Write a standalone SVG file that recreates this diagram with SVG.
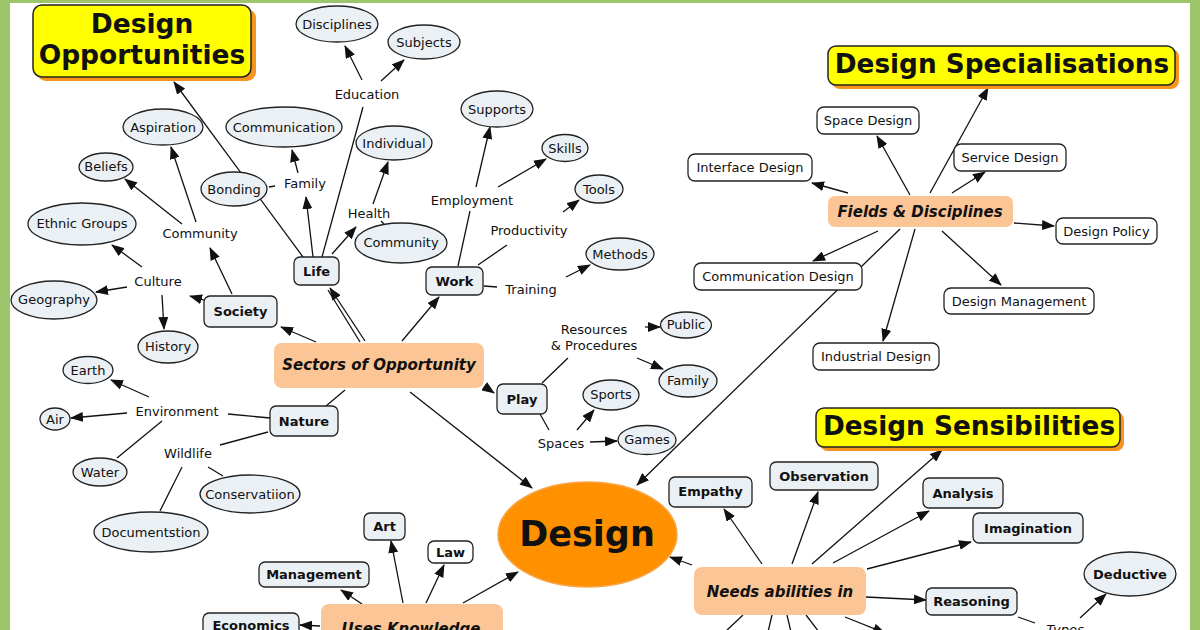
<svg xmlns="http://www.w3.org/2000/svg" width="1200" height="630" viewBox="0 0 1200 630">
<defs>
<marker id="ah" markerUnits="userSpaceOnUse" markerWidth="13" markerHeight="10" refX="12" refY="5" orient="auto">
<path d="M0,0 L13,5 L0,10 z" fill="#111"/>
</marker>
<style>
text{font-family:"DejaVu Sans","Liberation Sans",sans-serif;fill:#111;text-anchor:middle}
.t{font-size:13px}
.b{font-size:13px;font-weight:bold}
.p{font-size:15px;font-weight:bold;font-style:italic}
.el{fill:#eaf0f4;stroke:#222;stroke-width:1.3}
.bx{fill:#eaf0f4;stroke:#222;stroke-width:1.3}
.wb{fill:#fff;stroke:#222;stroke-width:1.3}
.pc{fill:#fbc596}
.ti{fill:#ffff00;stroke:#222;stroke-width:1.5}
.sh{fill:#f7941d}
.tt{font-weight:bold}
#conn line{stroke:#111;stroke-width:1.3}
#conn line.a{marker-end:url(#ah)}
</style>
</defs>
<rect x="0" y="0" width="1200" height="630" fill="#9dc56b"/>
<rect x="10" y="3" width="1180" height="627" fill="#fff"/>

<g id="conn">
<!-- Life -->
<line class="a" x1="303" y1="257" x2="174" y2="82"/>
<line class="a" x1="313" y1="257" x2="306" y2="197"/>
<line class="a" x1="298" y1="173" x2="292" y2="150"/>
<line x1="269" y1="187" x2="275" y2="186"/>
<line x1="322" y1="257" x2="363" y2="107"/>
<line class="a" x1="362" y1="80" x2="345" y2="46"/>
<line class="a" x1="381" y1="81" x2="404" y2="60"/>
<line class="a" x1="332" y1="254" x2="356" y2="227"/>
<line x1="381" y1="221" x2="384" y2="224"/>
<line class="a" x1="373" y1="204" x2="388" y2="162"/>
<!-- Sectors -->
<line x1="360" y1="342" x2="328" y2="290"/>
<line class="a" x1="365" y1="341" x2="330" y2="288"/>
<line class="a" x1="402" y1="341" x2="439" y2="297"/>
<line class="a" x1="316" y1="342" x2="281" y2="327"/>
<line x1="345" y1="390" x2="326" y2="406"/>
<line class="a" x1="484" y1="386" x2="494" y2="393"/>
<line class="a" x1="410" y1="392" x2="532" y2="488"/>
<!-- Work -->
<line x1="458" y1="266" x2="470" y2="211"/>
<line class="a" x1="476" y1="187" x2="490" y2="127"/>
<line class="a" x1="498" y1="187" x2="546" y2="159"/>
<line x1="478" y1="265" x2="507" y2="245"/>
<line class="a" x1="563" y1="212" x2="579" y2="200"/>
<line x1="484" y1="286" x2="497" y2="287"/>
<line class="a" x1="566" y1="277" x2="590" y2="265"/>
<!-- Society -->
<line class="a" x1="232" y1="294" x2="210" y2="248"/>
<line class="a" x1="204" y1="300" x2="190" y2="296"/>
<line class="a" x1="196" y1="222" x2="171" y2="147"/>
<line class="a" x1="182" y1="224" x2="125" y2="179"/>
<line class="a" x1="142" y1="267" x2="112" y2="245"/>
<line class="a" x1="127" y1="287" x2="96" y2="292"/>
<line class="a" x1="162" y1="295" x2="164" y2="329"/>
<!-- Nature -->
<line x1="270" y1="418" x2="228" y2="414"/>
<line class="a" x1="149" y1="397" x2="111" y2="380"/>
<line class="a" x1="127" y1="413" x2="71" y2="418"/>
<line x1="162" y1="421" x2="117" y2="458"/>
<line x1="268" y1="432" x2="220" y2="445"/>
<line x1="208" y1="467" x2="223" y2="476"/>
<line x1="182" y1="467" x2="160" y2="511"/>
<!-- Play -->
<line x1="542" y1="383" x2="568" y2="358"/>
<line class="a" x1="645" y1="327" x2="660" y2="327"/>
<line class="a" x1="637" y1="358" x2="663" y2="369"/>
<line x1="540" y1="414" x2="549" y2="430"/>
<line class="a" x1="577" y1="430" x2="594" y2="410"/>
<line class="a" x1="590" y1="442" x2="617" y2="441"/>
<!-- Fields -->
<line class="a" x1="930" y1="193" x2="988" y2="88"/>
<line class="a" x1="910" y1="195" x2="877" y2="136"/>
<line class="a" x1="848" y1="193" x2="812" y2="183"/>
<line class="a" x1="952" y1="193" x2="985" y2="172"/>
<line class="a" x1="1014" y1="223" x2="1054" y2="226"/>
<line class="a" x1="942" y1="231" x2="1001" y2="285"/>
<line class="a" x1="915" y1="229" x2="883" y2="341"/>
<line class="a" x1="878" y1="231" x2="813" y2="261"/>
<line class="a" x1="900" y1="229" x2="637" y2="485"/>
<!-- Needs -->
<line class="a" x1="692" y1="565" x2="670" y2="557"/>
<line class="a" x1="762" y1="564" x2="724" y2="509"/>
<line class="a" x1="792" y1="564" x2="818" y2="492"/>
<line class="a" x1="812" y1="564" x2="942" y2="450"/>
<line class="a" x1="833" y1="563" x2="929" y2="511"/>
<line class="a" x1="867" y1="569" x2="971" y2="542"/>
<line class="a" x1="866" y1="597" x2="926" y2="600"/>
<line x1="1018" y1="617" x2="1035" y2="623"/>
<line class="a" x1="1080" y1="618" x2="1106" y2="594"/>
<line x1="743" y1="615" x2="725" y2="632"/>
<line x1="772" y1="615" x2="768" y2="632"/>
<line x1="787" y1="615" x2="791" y2="632"/>
<line x1="806" y1="615" x2="819" y2="632"/>
<line class="a" x1="845" y1="617" x2="885" y2="633"/>
<!-- Uses -->
<line class="a" x1="403" y1="603" x2="391" y2="541"/>
<line class="a" x1="426" y1="603" x2="444" y2="565"/>
<line class="a" x1="362" y1="604" x2="341" y2="590"/>
<line class="a" x1="463" y1="603" x2="518" y2="572"/>
<line class="a" x1="320" y1="626" x2="300" y2="625"/>
</g>

<!-- Titles -->
<g id="design-opportunities">
<rect class="sh" x="37" y="9" width="219" height="72" rx="9"/>
<rect class="ti" x="33" y="5" width="218" height="72" rx="9"/>
<text class="tt" x="142" y="33" font-size="26.5">Design</text>
<text class="tt" x="142" y="64" font-size="26.5">Opportunities</text>
</g>
<g id="design-specialisations">
<rect class="sh" x="832" y="49" width="347" height="40" rx="8"/>
<rect class="ti" x="828" y="46" width="347" height="39" rx="8"/>
<text class="tt" x="1002" y="73" font-size="26.3">Design Specialisations</text>
</g>
<g id="design-sensibilities">
<rect class="sh" x="820" y="412" width="304" height="39" rx="8"/>
<rect class="ti" x="816" y="408" width="304" height="39" rx="8"/>
<text class="tt" x="969" y="435" font-size="26.3">Design Sensibilities</text>
</g>

<!-- Design -->
<g id="design">
<ellipse cx="587.5" cy="534.5" rx="89.5" ry="52.5" fill="#ff9000" stroke="#f7a54a" stroke-width="1.5"/>
<text class="tt" x="587" y="546" font-size="35">Design</text>
</g>

<!-- Peach -->
<g id="sectors"><rect class="pc" x="274" y="343" width="210" height="45" rx="8"/><text class="p" x="379" y="370">Sectors of Opportunity</text></g>
<g id="fields"><rect class="pc" x="828" y="196" width="185" height="31" rx="7"/><text class="p" x="920" y="216.5" font-size="13">Fields &amp; Disciplines</text></g>
<g id="needs"><rect class="pc" x="694" y="567" width="172" height="48" rx="8"/><text class="p" x="780" y="597">Needs abilities in</text></g>
<g id="uses"><rect class="pc" x="321" y="604" width="182" height="40" rx="8"/><text class="p" x="411" y="634">Uses Knowledge</text></g>

<!-- Ellipses -->
<g id="disciplines"><ellipse class="el" cx="337" cy="24" rx="41" ry="18"/><text class="t" x="337" y="28.5">Disciplines</text></g>
<g id="subjects"><ellipse class="el" cx="424" cy="42" rx="36" ry="17"/><text class="t" x="424" y="46.5">Subjects</text></g>
<g id="supports"><ellipse class="el" cx="497" cy="109" rx="36" ry="18"/><text class="t" x="497" y="113.5">Supports</text></g>
<g id="individual"><ellipse class="el" cx="394" cy="143" rx="38" ry="17"/><text class="t" x="394" y="147.5">Individual</text></g>
<g id="skills"><ellipse class="el" cx="565" cy="148" rx="23" ry="13.5"/><text class="t" x="565" y="152.5">Skills</text></g>
<g id="tools"><ellipse class="el" cx="599" cy="189" rx="24" ry="14"/><text class="t" x="599" y="193.5">Tools</text></g>
<g id="aspiration"><ellipse class="el" cx="163" cy="127" rx="40" ry="18"/><text class="t" x="163" y="131.5">Aspiration</text></g>
<g id="communication"><ellipse class="el" cx="284" cy="127" rx="58" ry="20"/><text class="t" x="284" y="131.5">Communication</text></g>
<g id="beliefs"><ellipse class="el" cx="106" cy="167" rx="27" ry="14"/><text class="t" x="106" y="171">Beliefs</text></g>
<g id="bonding"><ellipse class="el" cx="234" cy="189" rx="33" ry="17"/><text class="t" x="234" y="193.5">Bonding</text></g>
<g id="ethnic-groups"><ellipse class="el" cx="82" cy="224" rx="54" ry="21"/><text class="t" x="82" y="228">Ethnic Groups</text></g>
<g id="community-el"><ellipse class="el" cx="401" cy="243" rx="46" ry="20"/><text class="t" x="401" y="247">Community</text></g>
<g id="methods"><ellipse class="el" cx="620" cy="254" rx="34" ry="16"/><text class="t" x="620" y="258.5">Methods</text></g>
<g id="geography"><ellipse class="el" cx="54" cy="300" rx="43" ry="19"/><text class="t" x="54" y="304">Geography</text></g>
<g id="history"><ellipse class="el" cx="168" cy="347" rx="30" ry="16"/><text class="t" x="168" y="351">History</text></g>
<g id="public"><ellipse class="el" cx="686" cy="325" rx="25.5" ry="13"/><text class="t" x="686" y="329">Public</text></g>
<g id="family-el"><ellipse class="el" cx="688" cy="381" rx="29" ry="16"/><text class="t" x="688" y="385">Family</text></g>
<g id="sports"><ellipse class="el" cx="611" cy="395" rx="28" ry="15"/><text class="t" x="611" y="399">Sports</text></g>
<g id="games"><ellipse class="el" cx="647" cy="440" rx="29" ry="14.5"/><text class="t" x="647" y="444">Games</text></g>
<g id="earth"><ellipse class="el" cx="88" cy="370" rx="25" ry="13.5"/><text class="t" x="88" y="374.5">Earth</text></g>
<g id="air"><ellipse class="el" cx="55" cy="419" rx="15" ry="11"/><text class="t" x="55" y="423.5">Air</text></g>
<g id="water"><ellipse class="el" cx="100" cy="472" rx="27" ry="14"/><text class="t" x="100" y="476.5">Water</text></g>
<g id="conservatiion"><ellipse class="el" cx="250" cy="494" rx="50" ry="19"/><text class="t" x="250" y="498.5">Conservatiion</text></g>
<g id="documentstion"><ellipse class="el" cx="151" cy="532" rx="57" ry="20"/><text class="t" x="151" y="536.5">Documentstion</text></g>
<g id="deductive"><ellipse class="el" cx="1130" cy="574" rx="46" ry="22"/><text class="b" x="1130" y="578.5">Deductive</text></g>

<!-- Bold boxes -->
<g id="life"><rect class="bx" x="294" y="257" width="45" height="28" rx="6"/><text class="b" x="316.5" y="275.5">Life</text></g>
<g id="work"><rect class="bx" x="426" y="267" width="57" height="28" rx="6"/><text class="b" x="454.5" y="285.5">Work</text></g>
<g id="society"><rect class="bx" x="204" y="296" width="73" height="31" rx="6"/><text class="b" x="240.5" y="315.5">Society</text></g>
<g id="nature"><rect class="bx" x="270" y="406" width="68" height="30" rx="6"/><text class="b" x="304" y="425.5">Nature</text></g>
<g id="play"><rect class="bx" x="497" y="384" width="50" height="30" rx="6"/><text class="b" x="522" y="403.5">Play</text></g>
<g id="art"><rect class="bx" x="364" y="513" width="41" height="27" rx="6"/><text class="b" x="384.5" y="531">Art</text></g>
<g id="law"><rect class="wb" x="428" y="541" width="45" height="22" rx="6"/><text class="b" x="450.5" y="556.5">Law</text></g>
<g id="management"><rect class="bx" x="259" y="562" width="110" height="25" rx="6"/><text class="b" x="314" y="579">Management</text></g>
<g id="economics"><rect class="bx" x="203" y="613" width="96" height="25" rx="6"/><text class="b" x="251" y="630">Economics</text></g>
<g id="empathy"><rect class="bx" x="669" y="477" width="83" height="30" rx="6"/><text class="b" x="710.5" y="496">Empathy</text></g>
<g id="observation"><rect class="bx" x="770" y="462" width="108" height="28" rx="6"/><text class="b" x="824" y="480.5">Observation</text></g>
<g id="analysis"><rect class="bx" x="923" y="478" width="80" height="30" rx="6"/><text class="b" x="963" y="497.5">Analysis</text></g>
<g id="imagination"><rect class="bx" x="973" y="513" width="110" height="30" rx="6"/><text class="b" x="1028" y="532.5">Imagination</text></g>
<g id="reasoning"><rect class="bx" x="926" y="588" width="91" height="27" rx="6"/><text class="b" x="971.5" y="606">Reasoning</text></g>

<!-- White boxes -->
<g id="space-design"><rect class="wb" x="817" y="107" width="102" height="27" rx="7"/><text class="t" x="868" y="125">Space Design</text></g>
<g id="interface-design"><rect class="wb" x="688" y="154" width="124" height="27" rx="7"/><text class="t" x="750" y="172">Interface Design</text></g>
<g id="service-design"><rect class="wb" x="954" y="144" width="112" height="27" rx="7"/><text class="t" x="1010" y="162">Service Design</text></g>
<g id="communication-design"><rect class="wb" x="694" y="263" width="168" height="27" rx="7"/><text class="t" x="778" y="281">Communication Design</text></g>
<g id="design-policy"><rect class="wb" x="1056" y="218" width="101" height="26" rx="7"/><text class="t" x="1106.5" y="235.5">Design Policy</text></g>
<g id="design-management"><rect class="wb" x="944" y="288" width="150" height="26" rx="7"/><text class="t" x="1019" y="305.5">Design Management</text></g>
<g id="industrial-design"><rect class="wb" x="813" y="343" width="126" height="27" rx="7"/><text class="t" x="876" y="361">Industrial Design</text></g>

<!-- Linking phrases -->
<g id="phrases">
<text class="t" x="367" y="98.5">Education</text>
<text class="t" x="305" y="188">Family</text>
<text class="t" x="200" y="237.5">Community</text>
<text class="t" x="369" y="217.5">Health</text>
<text class="t" x="472" y="204.5">Employment</text>
<text class="t" x="529" y="234.5">Productivity</text>
<text class="t" x="158" y="285.5">Culture</text>
<text class="t" x="531" y="294">Training</text>
<text class="t" x="594" y="333.5">Resources</text>
<text class="t" x="594" y="349.5">&amp; Procedures</text>
<text class="t" x="177" y="415.5">Environment</text>
<text class="t" x="188" y="458">Wildlife</text>
<text class="t" x="561" y="447.5">Spaces</text>
<text class="t" x="1065" y="634" font-style="italic">Types</text>
</g>
</svg>
